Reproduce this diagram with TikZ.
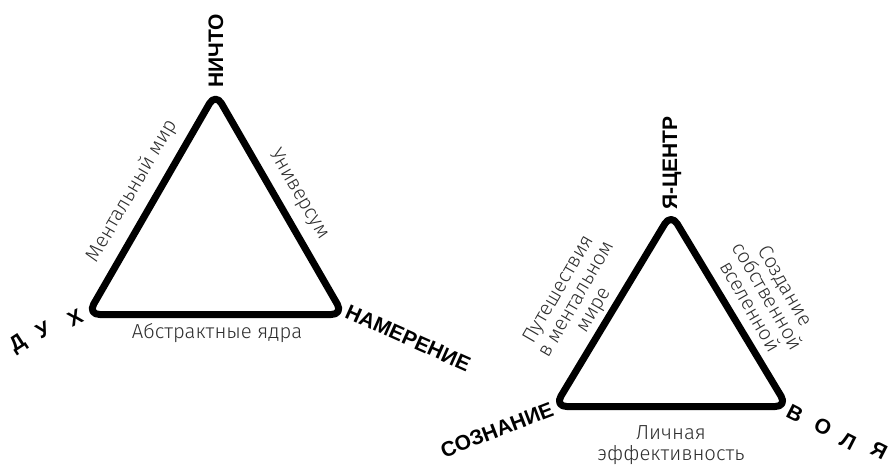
\documentclass[tikz,border=0pt]{standalone}
\usepackage{fontspec}
\setmainfont{Liberation Sans}
\newfontfamily\thinfont{Fira Sans Light}

\begin{document}
\begin{tikzpicture}[x=1pt, y=-1pt,
    tri/.style={line width=7pt, rounded corners=12pt, line join=round},
    lbl/.style={font=\thinfont\fontsize{20.3}{20.5}\selectfont, text=black!82,
      align=center, inner sep=0pt},
    pole/.style={font=\bfseries\fontsize{21}{25}\selectfont, inner sep=0pt},
  ]
  \useasboundingbox (0,0) rectangle (891,464);

  % Left: triangle
  \coordinate (lB) at (215.5,314.5);
  \coordinate (lL) at (87.7,314.5);
  \coordinate (lR) at (343.3,314.5);
  \coordinate (lT) at (215.5,93.1);
  \draw[tri] (lB) -- (lR) -- (lT) -- (lL) -- cycle;

  \node[lbl, rotate=60] (ment) at (132,191) {Ментальный мир};
  \node[lbl, rotate=-60] (univ) at (299,194) {Универсум};
  \node[lbl] (abstr) at (217,333) {Абстрактные ядра};

  \node[pole, rotate=90] (nichto) at (216,51) {НИЧТО};
  \node[pole, rotate=-24] (namer) at (408,338) {НАМЕРЕНИЕ};
  % spaced letters
  \foreach \ch/\x/\y/\r [count=\i] in {Д/18/344/33, У/43/330/28, Х/75/318/27} {
    \node[pole, rotate=\r] (duh\i) at (\x,\y) {\ch};
  }

  % Right: triangle
  \coordinate (rB) at (671,406.5);
  \coordinate (rL) at (554.7,406.5);
  \coordinate (rR) at (787.3,406.5);
  \coordinate (rT) at (671,213.5);
  \draw[tri] (rB) -- (rR) -- (rT) -- (rL) -- cycle;

  \node[lbl, rotate=60] (travel) at (577,300)
    {Путешествия\\в ментальном\\мире};
  \node[lbl, rotate=-60] (create) at (768,296)
    {Создание\\собственной\\вселенной};
  \node[lbl] (eff) at (671,445) {Личная\\эффективность};

  \node[pole, rotate=90] (yacentr) at (672,163) {Я-ЦЕНТР};
  \node[pole, rotate=21] (soznanie) at (497,430) {СОЗНАНИЕ};
  \foreach \ch/\x/\y [count=\i] in {В/795/413, О/823/427, Л/848/441, Я/879/450} {
    \node[pole, rotate=-27] (volya\i) at (\x,\y) {\ch};
  }

\end{tikzpicture}
\end{document}
